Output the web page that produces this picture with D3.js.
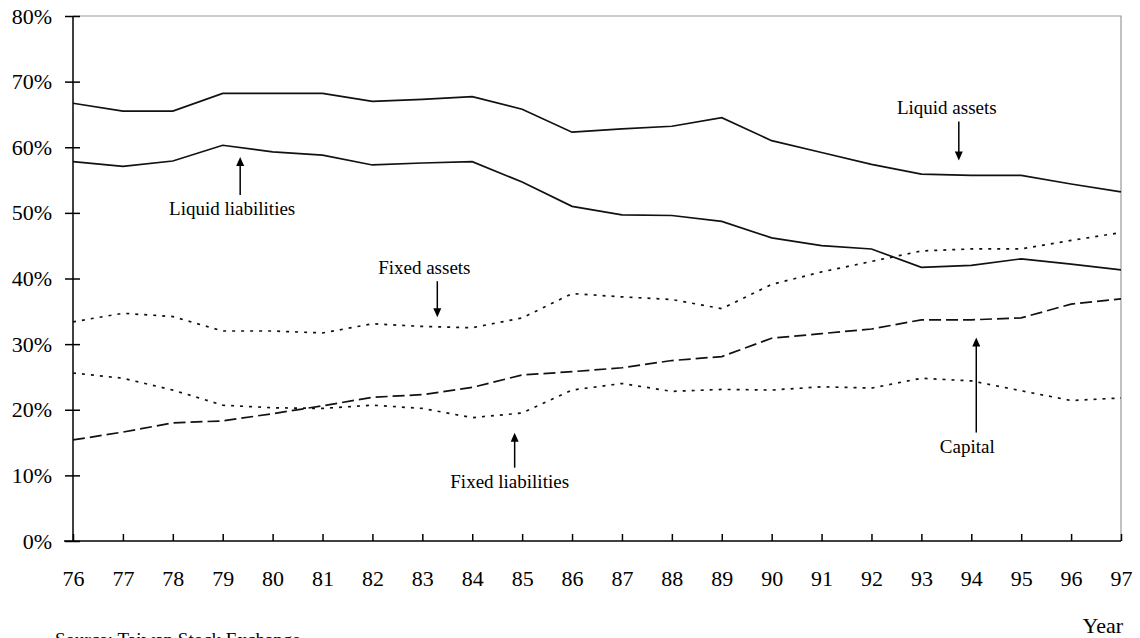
<!DOCTYPE html>
<html>
<head>
<meta charset="utf-8">
<script src="https://cdn.jsdelivr.net/npm/d3@7"></script>
<style>
  body { margin: 0; background: #fff; }
  svg { display: block; }
  text { font-family: "Liberation Serif", "DejaVu Serif", serif; fill: #000; }
</style>
</head>
<body>
<svg width="1140" height="638"></svg>
<script>
// years 1976 - 1997 (shown as two digits)
var years = d3.range(76, 98);

// shares of total, in percent
var liquidAssets = [66.7, 65.5, 65.5, 68.2, 68.2, 68.2, 67.0, 67.3, 67.7, 65.8, 62.3,
                    62.8, 63.2, 64.5, 61.0, 59.2, 57.4, 55.9, 55.7, 55.7, 54.4, 53.2];
var liquidLiabilities = [57.8, 57.1, 57.9, 60.3, 59.3, 58.8, 57.3, 57.6, 57.8, 54.7, 51.0,
                         49.7, 49.6, 48.7, 46.2, 45.0, 44.5, 41.7, 42.0, 43.0, 42.2, 41.3];
var fixedAssets = [33.4, 34.7, 34.2, 32.0, 32.0, 31.7, 33.1, 32.7, 32.5, 34.0, 37.7,
                   37.2, 36.8, 35.4, 39.1, 41.0, 42.6, 44.2, 44.5, 44.5, 45.8, 47.0];
var fixedLiabilities = [25.6, 24.8, 23.0, 20.7, 20.3, 20.2, 20.7, 20.2, 18.8, 19.5, 23.0,
                        24.0, 22.8, 23.1, 23.0, 23.5, 23.3, 24.8, 24.4, 22.9, 21.4, 21.8];
var capital = [15.4, 16.6, 18.0, 18.3, 19.4, 20.6, 21.9, 22.3, 23.4, 25.3, 25.8,
               26.4, 27.5, 28.1, 30.9, 31.6, 32.3, 33.7, 33.7, 34.0, 36.1, 36.9];

var yTicks = [0, 10, 20, 30, 40, 50, 60, 70, 80];

// label text, arrow tip (year, value) and arrow direction
var notes = [
    {label: 'Liquid liabilities', year: 79.35, value: 58.5, dir: 'up'},
    {label: 'Liquid assets', year: 93.75, value: 58.0, dir: 'down'},
    {label: 'Fixed assets', year: 83.3, value: 34.1, dir: 'down'},
    {label: 'Fixed liabilities', year: 84.85, value: 16.5, dir: 'up'},
    {label: 'Capital', year: 94.1, value: 31.0, dir: 'up'}
];

var svg = d3.select('svg');
var plot = {l: 73, r: 1121, t: 16, b: 541};

var x = d3.scaleLinear().domain([76, 97]).range([plot.l, plot.r]);
var y = d3.scaleLinear().domain([0, 80]).range([plot.b, plot.t]);

// frame (top / right in grey)
svg.append('path')
    .attr('d', 'M' + plot.l + ',' + plot.t + 'H' + plot.r + 'V' + plot.b)
    .attr('fill', 'none')
    .attr('stroke', '#999')
    .attr('stroke-width', 1.2);

// y axis
var yAxis = svg.append('g')
    .attr('transform', 'translate(' + plot.l + ',0)')
    .call(d3.axisLeft(y).tickValues(yTicks).tickSize(8).tickPadding(13)
        .tickFormat(function(d) { return d + '%'; }));
yAxis.select('.domain').remove();
yAxis.selectAll('.tick line').attr('x1', 7).attr('x2', -8).attr('stroke', '#000').attr('stroke-width', 1.5);
yAxis.selectAll('.tick text')
    .style('font-family', '"Liberation Serif", serif')
    .style('font-size', '22px');
svg.append('line')
    .attr('x1', plot.l).attr('x2', plot.l).attr('y1', plot.t).attr('y2', plot.b)
    .attr('stroke', '#000').attr('stroke-width', 1.5);

// x axis
var xAxis = svg.append('g')
    .attr('transform', 'translate(0,' + plot.b + ')')
    .call(d3.axisBottom(x).tickValues(years).tickSize(-7).tickPadding(29)
        .tickFormat(function(d) { return d; }));
xAxis.select('.domain').remove();
xAxis.selectAll('.tick line').attr('stroke', '#000').attr('stroke-width', 1.5);
xAxis.selectAll('.tick text')
    .style('font-family', '"Liberation Serif", serif')
    .style('font-size', '22px');
svg.append('line')
    .attr('x1', plot.l - 9).attr('x2', plot.r).attr('y1', plot.b).attr('y2', plot.b)
    .attr('stroke', '#000').attr('stroke-width', 1.5);

// series
var series = [
    {values: liquidAssets, dash: null},
    {values: liquidLiabilities, dash: null},
    {values: fixedAssets, dash: '3,6'},
    {values: fixedLiabilities, dash: '3,6'},
    {values: capital, dash: '12,5'}
];

var line = d3.line()
    .x(function(d, i) { return x(years[i]); })
    .y(function(d) { return y(d); });

svg.selectAll('.series')
    .data(series)
    .enter()
    .append('path')
    .attr('class', 'series')
    .attr('d', function(s) { return line(s.values); })
    .attr('fill', 'none')
    .attr('stroke', '#111')
    .attr('stroke-width', 1.7)
    .attr('stroke-dasharray', function(s) { return s.dash; });

// annotations: arrow length and label shift per note
var arrowLen = {'Liquid liabilities': 38, 'Liquid assets': 39, 'Fixed assets': 36,
                'Fixed liabilities': 35, 'Capital': 95};
var labelDx = {'Liquid liabilities': -8, 'Liquid assets': -12, 'Fixed assets': -13,
               'Fixed liabilities': -5, 'Capital': -9};

var noteG = svg.selectAll('.note')
    .data(notes)
    .enter()
    .append('g')
    .attr('class', 'note');

noteG.each(function(d) {
    var g = d3.select(this);
    var tx = x(d.year), ty = y(d.value);
    var len = arrowLen[d.label];
    var sign = d.dir === 'up' ? 1 : -1;   // tail goes below the tip when pointing up
    var tail = ty + sign * len;
    g.append('line')
        .attr('x1', tx).attr('x2', tx)
        .attr('y1', tail).attr('y2', ty + sign * 6)
        .attr('stroke', '#000').attr('stroke-width', 1.5);
    g.append('path')
        .attr('d', 'M' + tx + ',' + ty + 'L' + (tx - 4) + ',' + (ty + sign * 9) +
            'L' + (tx + 4) + ',' + (ty + sign * 9) + 'Z')
        .attr('fill', '#000');
    g.append('text')
        .attr('x', tx + labelDx[d.label])
        .attr('y', d.dir === 'up' ? tail + 20 : tail - 7)
        .attr('text-anchor', 'middle')
        .style('font-size', '19px')
        .text(d.label);
});

svg.append('text')
    .attr('x', 1123).attr('y', 633)
    .attr('text-anchor', 'end')
    .style('font-size', '22px')
    .text('Year');

svg.append('text')
    .attr('x', 55).attr('y', 646)
    .style('font-size', '19px')
    .text('Source: Taiwan Stock Exchange');
</script>
</body>
</html>
